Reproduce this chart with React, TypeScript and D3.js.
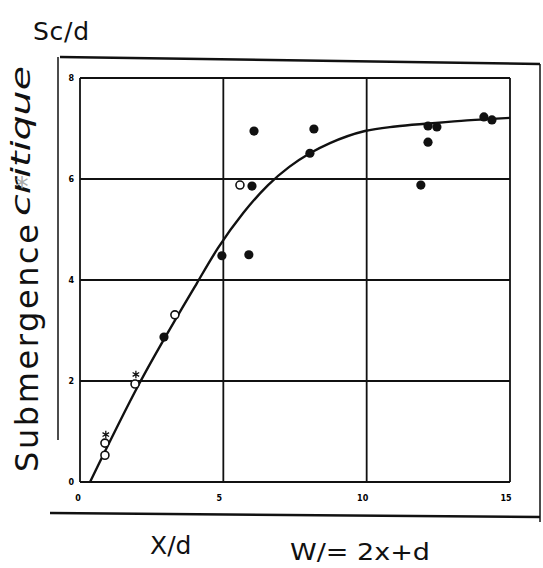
import React, { useRef, useEffect } from "react";
import * as d3 from "d3";

// values (x = X/d, y = Sc/d)
const filledX = [6.07, 8.16, 8.02, 6.0, 5.89, 4.95, 11.89, 12.14, 12.14, 12.45, 14.09, 14.37, 2.93];
const filledY = [6.95, 6.99, 6.51, 5.86, 4.5, 4.48, 5.88, 6.73, 7.05, 7.03, 7.23, 7.17, 2.87];
const openX = [5.58, 3.31, 1.92, 0.87, 0.87];
const openY = [5.88, 3.31, 1.94, 0.77, 0.53];
const starX = [1.95, 0.9];
const starY = [2.09, 0.9];
const curveX = [0.35, 2.06, 4.08, 4.81, 5.7, 6.56, 7.3, 8.02, 8.72, 9.94, 11, 12.2, 13.5, 15];
const curveY = [0, 1.94, 3.94, 4.63, 5.33, 5.88, 6.24, 6.51, 6.71, 6.95, 7.04, 7.1, 7.16, 7.21];
const xTicks = [0, 5, 10, 15];
const yTicks = [0, 2, 4, 6, 8];

const W = 543;
const H = 568;
const hand = "'DejaVu Sans', sans-serif";

function App() {
  const svgRef = useRef<SVGSVGElement>(null);

  useEffect(() => {
    const svg = d3.select(svgRef.current);
    svg.selectAll("*").remove();

    const x = d3.scaleLinear().domain([0, 15]).range([80, 510]);
    const y = d3.scaleLinear().domain([0, 8]).range([482, 78]);

    // outer frame (hand drawn box)
    const frame = svg.append("g").attr("stroke", "#111").attr("fill", "none");
    frame.append("line").attr("x1", 60).attr("y1", 57).attr("x2", 540).attr("y2", 64).attr("stroke-width", 2.5);
    frame.append("line").attr("x1", 58).attr("y1", 57).attr("x2", 58).attr("y2", 440).attr("stroke-width", 1.5);
    frame.append("line").attr("x1", 540).attr("y1", 64).attr("x2", 540).attr("y2", 522).attr("stroke-width", 1.5);
    frame.append("line").attr("x1", 50).attr("y1", 513).attr("x2", 540).attr("y2", 517).attr("stroke-width", 2.5);

    // grid
    const grid = svg.append("g").attr("stroke", "#111").attr("stroke-width", 1.8);
    grid.selectAll(".gx")
      .data(xTicks)
      .join("line")
      .attr("class", "gx")
      .attr("x1", d => x(d)).attr("x2", d => x(d))
      .attr("y1", y(8)).attr("y2", y(0));
    grid.selectAll(".gy")
      .data(yTicks)
      .join("line")
      .attr("class", "gy")
      .attr("x1", x(0)).attr("x2", x(15))
      .attr("y1", d => y(d)).attr("y2", d => y(d));

    // tick labels
    svg.selectAll(".yl")
      .data(yTicks)
      .join("text")
      .attr("class", "yl")
      .attr("x", 74)
      .attr("y", d => y(d) + 3)
      .attr("text-anchor", "end")
      .attr("font-family", hand)
      .attr("font-size", 8)
      .attr("font-weight", "bold")
      .text(d => d);
    svg.selectAll(".xl")
      .data(xTicks)
      .join("text")
      .attr("class", "xl")
      .attr("x", d => x(d) - (d === 0 ? 2 : 4))
      .attr("y", 501)
      .attr("text-anchor", "middle")
      .attr("font-family", hand)
      .attr("font-size", 8)
      .attr("font-weight", "bold")
      .text(d => d);

    // fitted curve
    const pts = curveX.map((v, i) => [v, curveY[i]] as [number, number]);
    const line = d3.line<[number, number]>()
      .x(d => x(d[0]))
      .y(d => y(d[1]))
      .curve(d3.curveMonotoneX);
    svg.append("path")
      .datum(pts)
      .attr("d", line)
      .attr("fill", "none")
      .attr("stroke", "#111")
      .attr("stroke-width", 2.4);

    // markers
    svg.selectAll(".filled")
      .data(filledX)
      .join("circle")
      .attr("class", "filled")
      .attr("cx", d => x(d))
      .attr("cy", (d, i) => y(filledY[i]))
      .attr("r", 4.6)
      .attr("fill", "#111");
    svg.selectAll(".open")
      .data(openX)
      .join("circle")
      .attr("class", "open")
      .attr("cx", d => x(d))
      .attr("cy", (d, i) => y(openY[i]))
      .attr("r", 4)
      .attr("fill", "#fff")
      .attr("stroke", "#111")
      .attr("stroke-width", 1.6);
    svg.selectAll(".star")
      .data(starX)
      .join("path")
      .attr("class", "star")
      .attr("d", d3.symbol(d3.symbolAsterisk, 40))
      .attr("transform", (d, i) => `translate(${x(d)},${y(starY[i]) - 2})`)
      .attr("fill", "none")
      .attr("stroke", "#111")
      .attr("stroke-width", 1.3);

    // handwritten labels
    const label = (t: string) =>
      svg.append("text")
        .attr("font-family", hand)
        .attr("fill", "#111")
        .text(t);

    label("Sc/d")
      .attr("x", 33).attr("y", 40)
      .attr("font-size", 25)
      .attr("textLength", 56).attr("lengthAdjust", "spacing");
    label("Submergence")
      .attr("transform", "translate(38,472) rotate(-90)")
      .attr("font-size", 32)
      .attr("textLength", 248).attr("lengthAdjust", "spacing");
    label("critique")
      .attr("transform", "translate(30,216) rotate(-90)")
      .attr("font-size", 26).attr("font-style", "italic")
      .attr("textLength", 150).attr("lengthAdjust", "spacingAndGlyphs");
    label("*")
      .attr("x", 22).attr("y", 196)
      .attr("font-size", 26)
      .attr("fill", "#aaa")
      .attr("text-anchor", "middle");
    label("X/d")
      .attr("x", 150).attr("y", 554)
      .attr("font-size", 25);
    label("W/= 2x+d")
      .attr("x", 290).attr("y", 560)
      .attr("font-size", 23)
      .attr("textLength", 140).attr("lengthAdjust", "spacingAndGlyphs");
  }, []);

  return (
    <svg
      ref={svgRef}
      width={W}
      height={H}
      style={{ position: "absolute", left: 0, top: 0, background: "#fff" }}
    />
  );
}

export default App;
